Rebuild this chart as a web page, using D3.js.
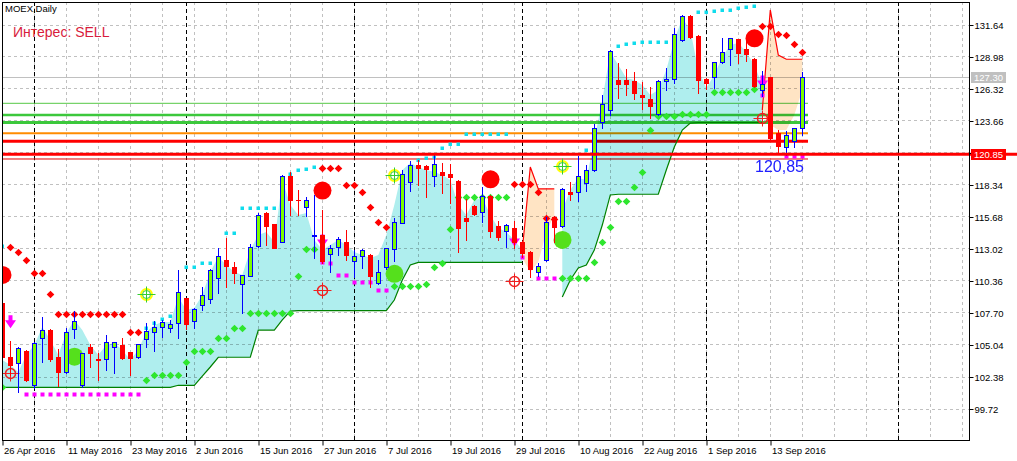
<!DOCTYPE html>
<html><head><meta charset="utf-8">
<script src="https://cdn.jsdelivr.net/npm/d3@7"></script>
<style>
body{margin:0;background:#fff}
svg{display:block}
text{font-family:"Liberation Sans",Arial,sans-serif}
</style>
</head><body>
<svg id="c" width="1017" height="461"></svg>
<script>
// ---------- DATA ----------
const tradingDays = {
  "2016-04":[26,27,28,29],
  "2016-05":[4,5,6,10,11,12,13,16,17,18,19,20,23,24,25,26,27,30,31],
  "2016-06":[1,2,3,6,7,8,9,10,14,15,16,17,20,21,22,23,24,27,28,29,30],
  "2016-07":[1,4,5,6,7,8,11,12,13,14,15,18,19,20,21,22,25,26,27,28,29],
  "2016-08":[1,2,3,4,5,8,9,10,11,12,15,16,17,18,19,22,23,24,25,26,29,30,31],
  "2016-09":[1,2,5,6,7,8,9,12,13,14,15,16,19]
};
const tickIdx = [0,8,16,24,32,40,48,56,64,72,80,88,96];
const priceTicks = [99.72,102.38,105.04,107.70,110.36,113.02,115.68,118.34,121.00,123.66,126.32,128.98,131.64];
const separatorIdx = [4,23,44,65,88,112];

const open = [108.49,104.03,103.53,104.50,101.68,105.61,106.25,104.00,102.78,106.30,
101.68,104.81,103.81,103.81,104.81,105.00,104.39,103.98,105.47,106.11,
106.47,106.39,106.80,108.88,106.97,108.33,108.80,110.54,112.07,111.46,
110.05,110.74,113.26,116.00,115.06,113.59,119.05,117.05,116.50,114.06,
114.14,112.54,113.17,113.53,112.01,112.43,112.48,110.13,111.46,112.95,
115.17,118.52,119.96,119.88,119.05,119.38,119.24,118.63,115.58,116.55,
116.08,117.38,114.92,114.50,114.72,113.59,112.76,111.04,112.06,115.61,
114.92,117.74,117.69,118.49,119.55,123.51,124.54,127.03,127.03,126.95,
125.78,125.45,124.20,126.97,127.09,130.35,132.35,130.69,127.11,127.31,
128.50,129.58,130.41,129.58,128.78,126.20,127.25,122.60,121.49,121.99,
123.01];
const high = [108.60,105.36,104.80,104.59,105.28,107.30,106.30,104.67,106.39,107.86,
104.36,105.09,104.31,105.83,105.28,105.56,104.45,105.11,106.80,107.00,
107.08,107.08,111.24,108.94,108.05,109.85,111.29,113.04,113.90,111.87,
110.85,113.37,115.94,116.06,115.09,119.13,119.41,117.88,117.33,117.47,
116.22,113.31,114.00,114.56,112.90,112.98,112.54,112.06,113.09,115.53,
119.55,120.30,120.38,119.94,120.93,120.16,120.02,118.72,117.11,116.64,
118.16,117.44,115.31,115.03,115.31,113.64,112.81,111.84,115.61,115.72,
118.02,118.52,120.71,120.00,123.37,125.78,129.52,128.42,127.92,127.72,
126.89,126.42,127.03,128.00,131.33,132.43,132.41,130.74,127.17,128.55,
130.49,130.55,130.47,130.41,128.83,127.81,127.31,122.87,122.82,123.07,
127.72];
const low = [103.90,102.51,101.12,102.04,101.40,103.62,103.70,101.62,102.65,105.61,
101.54,103.20,102.09,102.92,102.65,103.87,102.51,103.92,104.81,104.53,
105.69,106.11,105.61,106.30,106.39,107.91,108.47,109.30,109.85,110.13,
107.63,110.70,113.17,113.31,113.06,113.53,115.81,115.81,115.75,112.20,
111.79,111.10,112.48,112.06,110.68,111.43,109.85,110.07,111.32,111.98,
115.11,117.83,118.30,117.33,118.22,117.61,116.77,112.76,113.73,115.81,
115.25,114.00,113.73,113.17,113.03,112.34,110.68,110.73,112.01,113.59,
114.78,117.05,116.97,117.80,119.49,123.01,124.12,125.51,125.78,125.42,
124.59,123.84,124.12,126.20,126.75,130.30,130.49,125.98,126.25,126.34,
128.42,128.28,128.42,128.64,126.42,125.70,122.10,120.99,120.79,121.43,
122.45];
const close = [104.00,103.34,104.72,102.09,105.14,106.25,103.84,102.78,106.05,107.00,
104.31,104.36,103.75,105.22,105.22,103.95,103.95,105.06,106.17,106.47,
106.94,106.72,109.38,106.72,107.97,109.16,111.24,112.40,111.60,111.01,
110.79,113.17,115.81,114.92,113.09,119.05,117.05,117.03,117.05,114.12,
112.01,113.04,113.78,112.48,112.43,112.90,110.74,111.04,113.04,115.20,
119.22,119.99,119.69,119.63,120.02,119.16,118.99,114.75,115.33,115.89,
117.38,114.50,114.00,114.97,113.59,112.62,111.29,111.59,115.22,114.84,
117.94,117.52,119.05,119.55,123.01,125.01,129.47,126.67,126.67,125.98,
125.59,124.90,126.97,127.11,130.83,132.38,130.63,127.03,126.81,128.50,
129.33,130.49,129.30,129.19,126.53,126.70,122.18,121.54,122.46,123.01,
127.30];

// bullish cloud, segment 1 (bars 0..65) and segment 2 (bars 70..95)
const cloud1Start = 0;
const cloud1Top = [103.75,103.34,102.75,104.17,105.00,106.49,105.41,104.17,105.99,107.08,
106.24,105.00,104.17,105.00,105.16,104.58,103.75,104.58,106.08,106.66,
106.91,106.91,108.99,107.91,108.07,109.16,111.07,112.31,111.65,111.07,
110.82,112.89,114.14,114.39,113.56,118.71,116.64,115.80,115.97,113.73,
112.89,113.31,113.73,113.31,112.73,112.48,112.23,112.48,114.14,116.64,
119.55,120.13,119.79,119.55,119.38,119.13,118.71,116.64,115.80,117.05,
117.22,115.80,114.72,114.39,113.73,112.89];
const cloud1Bottom = [101.48,101.48,101.48,101.48,101.48,101.48,101.48,101.48,101.48,101.48,
101.48,101.48,101.48,101.48,101.48,101.48,101.48,101.48,101.48,101.48,
101.48,101.48,101.65,101.65,101.65,102.42,103.17,103.98,103.98,103.98,
103.98,103.98,106.24,106.24,106.24,107.08,107.82,107.85,107.85,107.85,
107.85,107.85,107.85,107.85,107.85,107.85,107.85,107.85,107.85,108.74,
110.40,111.65,111.87,111.87,111.87,111.87,111.87,111.87,111.87,111.87,
111.87,111.87,111.87,111.87,111.87,111.87];
const cloud2Start = 70;
const cloud2Top = [116.22,117.89,118.88,118.71,122.04,125.36,129.35,128.27,127.19,127.03,
126.61,125.78,126.20,127.86,130.35,132.18,131.18,127.86,126.36,127.44,
128.94,129.94,130.10,129.35,128.27,126.61];
const cloud2Bottom = [108.99,110.40,111.40,111.65,112.89,114.97,117.47,117.53,117.53,117.53,
117.53,117.53,117.53,119.55,121.46,122.87,123.45,123.48,123.48,123.48,
123.48,123.48,123.48,123.48,123.48,123.48];
// bearish cloud segments
const bear1Start = 65;
const bear1Top = [112.89,119.79,117.97,117.97,117.97];
const bear1Bottom = [112.23,111.07,111.90,114.39,115.80];
const bear2Start = 95;
const bear2Top = [124.53,132.85,129.10,128.75,128.75,128.75];
const bear2Bottom = [124.12,123.29,122.87,122.87,124.12,126.20];

// [bar index, price]
const redDiamonds = [[1,113.17],[2,112.70],[3,112.06],[4,110.96],[5,110.96],[6,109.21],
[7,107.58],[8,107.58],[9,107.58],[10,107.58],[11,107.58],[12,107.58],[13,107.58],[14,107.58],[15,107.58],
[16,106.05],[17,106.05],[40,119.67],[41,119.67],[42,119.67],[43,118.30],[44,118.30],[45,117.69],
[46,116.45],[47,115.20],[48,114.78],[64,118.38],[65,118.38],[66,118.38],[67,117.69],[68,115.53],[69,115.47],
[95,131.52],[96,131.52],[97,130.85],[98,130.74],[99,129.99],[100,129.33]];
const greenDiamonds = [[0,101.53],[18,102.09],[19,102.50],[20,102.50],[21,102.50],[22,102.50],[23,103.56],
[24,104.50],[25,104.50],[26,104.50],[27,105.55],[28,105.55],[29,106.39],[30,106.39],
[31,107.63],[32,107.63],[33,107.63],[34,107.63],[35,107.63],[36,107.63],[37,110.73],[38,112.95],[39,112.95],
[49,109.90],[50,109.90],[51,109.90],[52,109.90],[53,110.04],[54,111.46],[55,111.79],[56,114.64],
[57,117.30],[58,117.30],[59,117.30],[60,117.30],[61,117.30],[62,117.30],[63,117.30],
[70,110.57],[71,110.57],[72,110.57],[73,110.57],[74,111.92],[75,113.53],[76,114.78],[77,116.97],[78,116.97],
[79,118.13],[80,119.40],[81,122.87],[82,124.03],[83,124.03],[84,124.03],[85,124.18],[86,124.18],[87,124.18],[88,124.18],
[89,126.00],[90,126.00],[91,126.00],[92,126.00],[93,126.00],[94,126.25]];
const cyanDots = [[0,113.23],[18,106.39],[19,106.83],[20,107.13],[21,107.43],[23,111.46],[24,111.46],[25,111.79],[26,111.79],
[28,114.28],[29,114.28],[30,116.36],[31,116.36],[32,116.36],[33,116.36],[34,116.36],
[36,119.21],[37,119.55],[38,119.63],[39,119.77],[52,120.38],[53,120.52],[54,120.60],[55,121.40],[56,121.68],[57,121.68],
[58,122.54],[59,122.54],[60,122.54],[61,122.54],[62,122.54],[63,122.54],[73,121.21],
[77,129.85],[78,130.02],[79,130.08],[80,130.16],[81,130.16],[82,130.16],[83,130.16],
[87,132.65],[88,132.70],[89,132.76],[90,132.85],[91,132.85],[92,132.99],[93,133.12],[94,133.20]];
const magentaDots = [[3,100.93],[4,100.93],[5,100.93],[6,100.93],[7,100.93],[8,100.93],[9,100.93],[10,100.93],
[11,100.93],[12,100.93],[13,100.93],[14,100.93],[15,100.93],[16,100.93],[17,100.93],
[40,111.92],[41,111.79],[42,110.82],[43,110.82],[44,110.21],[45,110.21],[46,110.21],[47,109.57],[48,109.57],
[65,112.31],[67,110.53],[68,110.53],[69,110.53],[95,125.78],[98,120.71],[99,120.71],[100,120.71]];
const sellCircles = [[0,110.82],[40,117.84],[61,118.77],[94,130.49]];
const buyCircles = [[9,104.03],[49,110.92],[70,113.73]];
const sellTargets = [[1,102.63],[40,109.61],[64,110.28],[95,123.84]];
const buyTargets = [[18,109.20],[49,119.13],[70,119.90]];
const sellArrows = [[1,106.93],[40,113.64],[64,113.73],[95,126.86]];
const levelPrices = [125.09,124.12,123.49,122.60,121.93,120.85,120.46];
const lastClose = 127.30;
const alertPrice = 120.85;
const alertText = "120,85";
const titleText = "MOEX,Daily";
const signalText = "Интерес: SELL";

// ---------- DRAW ----------
const dates = [];
Object.keys(tradingDays).forEach(m => tradingDays[m].forEach(d => dates.push(new Date(m + "-" + String(d).padStart(2,"0") + "T00:00:00"))));
const fmt = d3.timeFormat("%-d %b %Y");

const svg = d3.select("#c");
const P = {l:2, t:2, r:969, b:440};
const xs = d3.scaleLinear().domain([0,120]).range([2.3,962.3]);
const ys = d3.scaleLinear().domain([99.72,131.64]).range([408.5,24.5]);
const X = i => Math.round(xs(i));
const Y = v => Math.round(ys(v));

svg.append("rect").attr("width",1017).attr("height",461).attr("fill","#fff");
svg.append("defs").append("clipPath").attr("id","clip").append("rect")
  .attr("x",P.l).attr("y",P.t).attr("width",P.r-P.l).attr("height",P.b-P.t);
const g = svg.append("g").attr("clip-path","url(#clip)");

// grid
priceTicks.forEach(t => g.append("line").attr("x1",P.l).attr("x2",P.r)
  .attr("y1",Y(t)+0.5).attr("y2",Y(t)+0.5).attr("stroke","#c0c0c0").attr("stroke-dasharray","3,3"));
d3.range(0,121,4).forEach(i => g.append("line").attr("x1",X(i)+0.5).attr("x2",X(i)+0.5)
  .attr("y1",P.t).attr("y2",P.b).attr("stroke","#c0c0c0").attr("stroke-dasharray","3,3"));
separatorIdx.forEach(i => g.append("line").attr("x1",X(i)+0.5).attr("x2",X(i)+0.5)
  .attr("y1",P.t).attr("y2",P.b).attr("stroke","#000").attr("stroke-dasharray","4,3"));

// level lines
const lvlEnd = X(100) + 6;
const levelStyle = [["#55c845",1,lvlEnd],["#3cc83c",2.5,lvlEnd],["#3cc83c",3,lvlEnd],["#ff8c00",2,lvlEnd],["#ff0000",3,lvlEnd],["#ff0000",3,1017],["#e00000",1,lvlEnd]];
g.append("line").attr("x1",P.l).attr("x2",P.r).attr("y1",Y(lastClose)+0.5).attr("y2",Y(lastClose)+0.5)
  .attr("stroke","#c0c0c0");
levelPrices.forEach((v,k) => {
  const s = levelStyle[k];
  const tgt = s[2] > P.r ? svg : g;
  tgt.append("line").attr("x1",P.l).attr("x2",s[2]).attr("y1",ys(v)).attr("y2",ys(v))
    .attr("stroke",s[0]).attr("stroke-width",s[1]);
});
g.append("line").attr("x1",P.l).attr("x2",P.r).attr("y1",ys(alertPrice)).attr("y2",ys(alertPrice))
  .attr("stroke","#a00000").attr("stroke-width",1).attr("stroke-dasharray","5,4");

// clouds
function seg(start, top, bot){ return top.map((t,k)=>({i:start+k, t, b:bot[k]})); }
const area = d3.area().x(d=>xs(d.i)).y0(d=>ys(d.b)).y1(d=>ys(d.t));
const bulls = [seg(cloud1Start,cloud1Top,cloud1Bottom), seg(cloud2Start,cloud2Top,cloud2Bottom)];
const bears = [seg(bear1Start,bear1Top,bear1Bottom), seg(bear2Start,bear2Top,bear2Bottom)];
bulls.forEach(s => g.append("path").attr("d",area(s)).attr("fill","#afeeee").style("mix-blend-mode","multiply"));
bears.forEach(s => g.append("path").attr("d",area(s)).attr("fill","#ffe4c4").style("mix-blend-mode","multiply"));
const lineB = d3.line().x(d=>xs(d.i)).y(d=>ys(d.b));
const lineT = d3.line().x(d=>xs(d.i)).y(d=>ys(d.t));
bulls.forEach(s => g.append("path").attr("d",lineB(s)).attr("fill","none").attr("stroke","#008000").attr("stroke-width",1.2));
bears.forEach(s => g.append("path").attr("d",lineT(s)).attr("fill","none").attr("stroke","#ff0000").attr("stroke-width",1.2));

// dots
cyanDots.forEach(([i,v]) => g.append("rect").attr("x",X(i)-1.5).attr("y",Y(v)-1.5).attr("width",3.5).attr("height",3.5).attr("fill","#10dcec"));
magentaDots.forEach(([i,v]) => g.append("rect").attr("x",X(i)-1.5).attr("y",Y(v)-1.5).attr("width",4).attr("height",4).attr("fill","#ff00ff"));
const diamond = (cx,cy,r) => `M${cx},${cy-r}L${cx+r},${cy}L${cx},${cy+r}L${cx-r},${cy}Z`;
redDiamonds.forEach(([i,v]) => g.append("path").attr("d",diamond(X(i)+0.5,Y(v)+0.5,3.8)).attr("fill","#ff0000"));
greenDiamonds.forEach(([i,v]) => g.append("path").attr("d",diamond(X(i)+0.5,Y(v)+0.5,3.8)).attr("fill","#2ee62e"));

// signals
sellCircles.forEach(([i,v]) => g.append("circle").attr("cx",X(i)+0.5).attr("cy",ys(v)).attr("r",9).attr("fill","#ff0000"));
buyCircles.forEach(([i,v]) => g.append("circle").attr("cx",X(i)+0.5).attr("cy",ys(v)).attr("r",9).attr("fill","#55e01c"));
sellTargets.forEach(([i,v]) => {
  const cx = X(i)+0.5, cy = Y(v)+0.5;
  g.append("circle").attr("cx",cx).attr("cy",cy).attr("r",5).attr("fill","none").attr("stroke","#f02020").attr("stroke-width",1.5);
  g.append("path").attr("d",`M${cx-9},${cy}H${cx+9}M${cx},${cy-8}V${cy+8}`).attr("stroke","#f02020").attr("stroke-width",1);
});
buyTargets.forEach(([i,v]) => {
  const cx = X(i)+0.5, cy = Y(v)+0.5;
  g.append("circle").attr("cx",cx).attr("cy",cy).attr("r",5.5).attr("fill","none").attr("stroke","#ffff00").attr("stroke-width",2);
  g.append("circle").attr("cx",cx).attr("cy",cy).attr("r",4).attr("fill","none").attr("stroke","#33cc33").attr("stroke-width",1);
  g.append("path").attr("d",`M${cx-9},${cy}H${cx+9}M${cx},${cy-8}V${cy+8}`).attr("stroke","#33cc33").attr("stroke-width",1);
});
sellArrows.forEach(([i,v]) => {
  const cx = X(i)+0.5, cy = ys(v);
  g.append("path").attr("d",`M${cx-2},${cy-6.5}H${cx+2}V${cy-1.5}H${cx+5.5}L${cx},${cy+6.5}L${cx-5.5},${cy-1.5}H${cx-2}Z`).attr("fill","#ff00ff");
});

// candles
open.forEach((o,i) => {
  const c = close[i], bull = c >= o, x = X(i);
  const col = bull ? "#0000ff" : "#ff0000";
  g.append("line").attr("x1",x+0.5).attr("x2",x+0.5).attr("y1",Y(high[i])).attr("y2",Y(low[i])+1).attr("stroke",col);
  const yt = Y(Math.max(o,c)), yb = Y(Math.min(o,c));
  if (bull) {
    g.append("rect").attr("x",x-1.5).attr("y",yt+0.5).attr("width",4).attr("height",Math.max(yb-yt,1))
      .attr("fill","#7cfc00").attr("stroke","#0000ff");
  } else {
    g.append("rect").attr("x",x-2).attr("y",yt).attr("width",5).attr("height",Math.max(yb-yt+1,1)).attr("fill","#ff0000");
  }
});

g.append("text").attr("x",755).attr("y",ys(alertPrice)+18).attr("font-size",16).attr("fill","#2020ff").text(alertText);

// frame
svg.append("rect").attr("x",P.l+0.5).attr("y",P.t+0.5).attr("width",P.r-P.l).attr("height",P.b-P.t)
  .attr("fill","none").attr("stroke","#000");

// axes
const yAxis = d3.axisRight(ys).tickValues(priceTicks).tickSize(4).tickFormat(d3.format(".2f"));
const ya = svg.append("g").attr("transform",`translate(${P.r+0.5},0.5)`).call(yAxis);
ya.select(".domain").remove();
ya.selectAll("text").attr("font-size",9.5).attr("font-family","Liberation Sans").attr("fill","#000").attr("x",5);
const xAxis = d3.axisBottom(xs).tickValues(tickIdx).tickSize(5).tickFormat(i => fmt(dates[i]));
const xa = svg.append("g").attr("transform",`translate(0.5,${P.b+0.5})`).call(xAxis);
xa.select(".domain").remove();
xa.selectAll(".tick line").attr("transform",d=>`translate(${X(d)-xs(d)},0)`);
xa.selectAll("text").attr("font-size",9.5).attr("font-family","Liberation Sans").attr("fill","#000")
  .attr("text-anchor","start").attr("dy","0.71em").attr("y",7).attr("x",d=>X(d)-xs(d)+1);

// price labels
function priceBox(v, fill, label){
  const cy = ys(v);
  svg.append("rect").attr("x",971).attr("y",Math.round(cy)-5).attr("width",35).attr("height",11).attr("fill",fill);
  svg.append("text").attr("x",974).attr("y",Math.round(cy)+4).attr("font-size",9.5).attr("fill","#fff").text(label);
}
priceBox(lastClose,"#c0c0c0",d3.format(".2f")(lastClose));
priceBox(alertPrice,"#ff0000",d3.format(".2f")(alertPrice));

svg.append("text").attr("x",5).attr("y",12).attr("font-size",9.5).attr("fill","#000").text(titleText);
svg.append("text").attr("x",13).attr("y",37).attr("font-size",14).attr("fill","#d81c3c").text(signalText);
</script>
</body></html>
